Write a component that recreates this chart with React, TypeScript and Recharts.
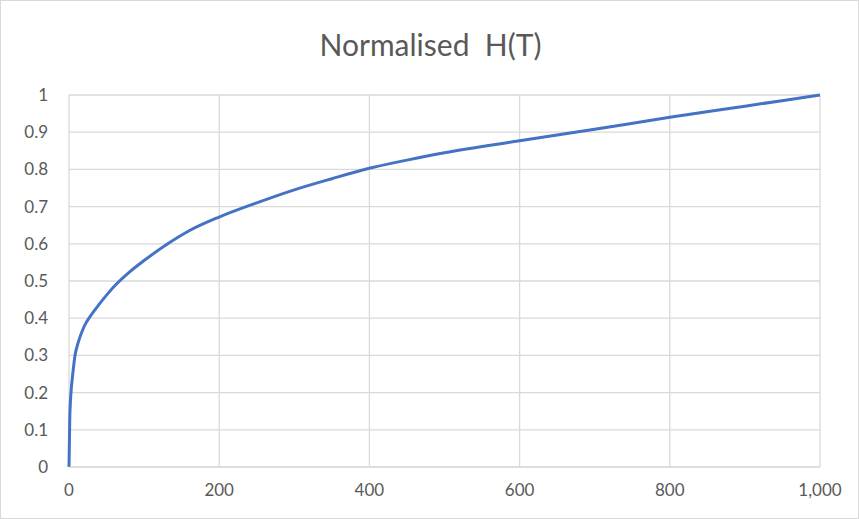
import { LineChart, Line, XAxis, YAxis, CartesianGrid } from "recharts";

const tValues = [0, 1, 2, 3, 5, 8, 12, 20, 30, 40, 50, 60, 80, 100, 130, 160, 200, 250, 300, 350, 400, 450, 500, 600, 700, 800, 900, 1000];
const hValues = [0, 0.13, 0.18, 0.21, 0.25, 0.3, 0.333, 0.377, 0.41, 0.437, 0.462, 0.485, 0.523, 0.555, 0.598, 0.635, 0.672, 0.71, 0.745, 0.775, 0.803, 0.825, 0.845, 0.877, 0.908, 0.94, 0.97, 1.0];
const xTicks = [0, 200, 400, 600, 800, 1000];
const yTicks = [0, 0.1, 0.2, 0.3, 0.4, 0.5, 0.6, 0.7, 0.8, 0.9, 1];

const data = tValues.map((t, i) => ({ t, h: hValues[i] }));

const textColor = "#595959";
const gridColor = "#d9d9d9";
const font = "Lato, 'Open Sans', sans-serif";

export default function App() {
  return (
    <div
      style={{
        position: "absolute",
        left: 0,
        top: 0,
        width: 859,
        height: 519,
        background: "#fff",
        boxSizing: "border-box",
        border: `1px solid ${gridColor}`,
        fontFamily: font,
      }}
    >
      <div
        style={{
          position: "absolute",
          top: 25,
          left: 0,
          width: 859,
          textAlign: "center",
          fontSize: 30,
          color: textColor,
          whiteSpace: "pre",
        }}
      >
        {"Normalised  H(T)"}
      </div>
      <LineChart
        width={857}
        height={517}
        data={data}
        margin={{ top: 94, right: 38, bottom: 0, left: 0 }}
      >
        <CartesianGrid stroke={gridColor} strokeWidth={1.3} />
        <XAxis
          dataKey="t"
          type="number"
          domain={[0, 1000]}
          ticks={xTicks}
          tickFormatter={(v: number) => v.toLocaleString("en-US")}
          stroke={gridColor}
          tick={{ fill: textColor, fontSize: 17, fontFamily: font }}
          tickLine={false}
          tickSize={0}
          tickMargin={17}
          height={51}
        />
        <YAxis
          type="number"
          domain={[0, 1]}
          ticks={yTicks}
          axisLine={false}
          tickLine={false}
          tickSize={0}
          tickMargin={21}
          width={68}
          tick={{ fill: textColor, fontSize: 17, fontFamily: font }}
        />
        <Line
          type="monotone"
          dataKey="h"
          stroke="#4472C4"
          strokeWidth={3}
          dot={false}
          isAnimationActive={false}
        />
      </LineChart>
    </div>
  );
}
